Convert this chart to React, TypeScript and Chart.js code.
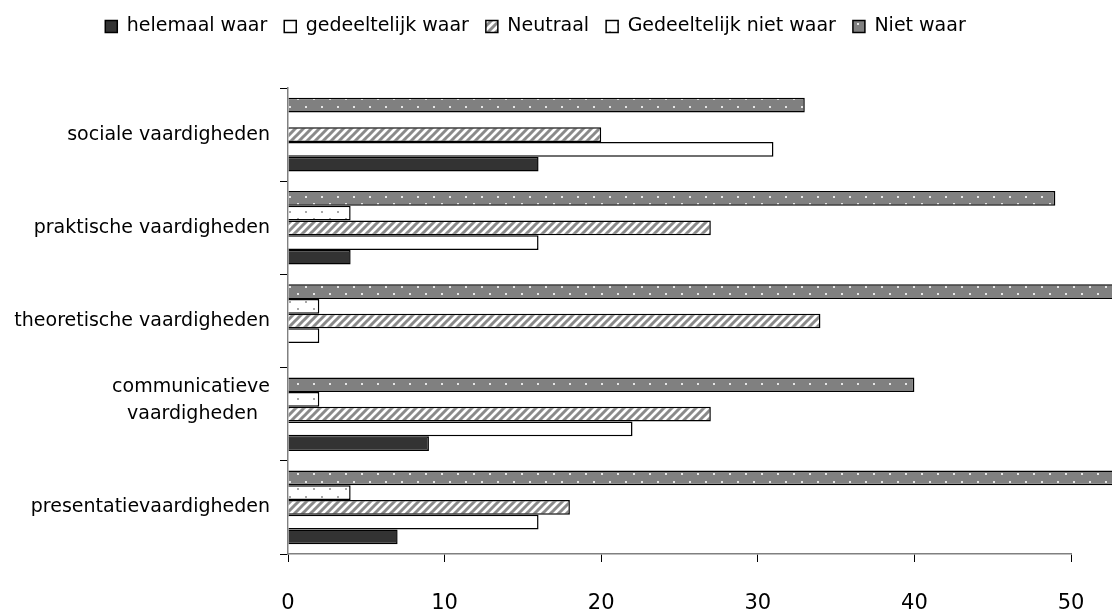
import React, { useEffect, useRef } from 'react';
import { Chart, registerables } from 'chart.js';

Chart.register(...registerables);

// Categories listed top to bottom as they appear in the chart
const categories: (string | string[])[] = [
  'sociale vaardigheden',
  'praktische vaardigheden',
  'theoretische vaardigheden',
  ['communicatieve', 'vaardigheden  ', ''],
  'presentatievaardigheden',
];

const helemaalWaar = [16, 4, 0, 9, 7];
const gedeeltelijkWaar = [31, 16, 2, 22, 16];
const neutraal = [20, 27, 34, 27, 18];
const gedeeltelijkNietWaar = [0, 4, 2, 2, 4];
const nietWaar = [33, 49, 56, 40, 56];

const xTicks = [0, 10, 20, 30, 40, 50];

const FONT = '"DejaVu Sans", sans-serif';

function makeHatch(): CanvasPattern | string {
  const c = document.createElement('canvas');
  c.width = 8;
  c.height = 8;
  const g = c.getContext('2d');
  if (!g) return '#aaa';
  g.fillStyle = '#ffffff';
  g.fillRect(0, 0, 8, 8);
  g.strokeStyle = '#8a8a8a';
  g.lineWidth = 3;
  g.beginPath();
  g.moveTo(-2, 10);
  g.lineTo(10, -2);
  g.moveTo(-2, 2);
  g.lineTo(2, -2);
  g.moveTo(6, 10);
  g.lineTo(10, 6);
  g.stroke();
  return g.createPattern(c, 'repeat') || '#aaa';
}

function makeDots(bg: string, dot: string): CanvasPattern | string {
  const c = document.createElement('canvas');
  c.width = 16;
  c.height = 15;
  const g = c.getContext('2d');
  if (!g) return bg;
  g.fillStyle = bg;
  g.fillRect(0, 0, 16, 15);
  g.fillStyle = dot;
  g.fillRect(1, 1, 2, 2);
  g.fillRect(9, 8, 2, 2);
  return g.createPattern(c, 'repeat') || bg;
}

export default function App() {
  const ref = useRef<HTMLCanvasElement | null>(null);

  useEffect(() => {
    document.body.style.margin = '0';
    if (!ref.current) return;
    const hatch = makeHatch();
    const grayDots = makeDots('#808080', '#e6e6e6');
    const whiteDots = makeDots('#ffffff', '#a8a8a8');

    const common = {
      borderColor: '#000000',
      borderWidth: 1.5,
      borderSkipped: 'start' as const,
      categoryPercentage: 0.79,
      barPercentage: 1.0,
    };

    const chart = new Chart(ref.current, {
      type: 'bar',
      data: {
        labels: categories,
        datasets: [
          { label: 'Niet waar', data: nietWaar, backgroundColor: grayDots as any, clip: false as any, ...common },
          { label: 'Gedeeltelijk niet waar', data: gedeeltelijkNietWaar, backgroundColor: whiteDots as any, ...common },
          { label: 'Neutraal', data: neutraal, backgroundColor: hatch as any, ...common },
          { label: 'gedeeltelijk waar', data: gedeeltelijkWaar, backgroundColor: '#ffffff', ...common },
          { label: 'helemaal waar', data: helemaalWaar, backgroundColor: '#333333', ...common },
        ],
      },
      options: {
        indexAxis: 'y',
        animation: false,
        responsive: true,
        maintainAspectRatio: false,
        layout: { padding: { left: 0, right: 41, top: 0, bottom: 0 } },
        plugins: {
          tooltip: { enabled: false },
          legend: {
            display: true,
            position: 'top',
            reverse: true,
            labels: {
              boxWidth: 12,
              boxHeight: 12,
              padding: 17,
              color: '#000',
              font: { family: FONT, size: 19 },
            },
          },
        },
        scales: {
          x: {
            type: 'linear',
            min: 0,
            max: 50,
            afterBuildTicks: (scale: any) => {
              scale.ticks = xTicks.map((v) => ({ value: v }));
            },
            afterFit: (scale: any) => {
              scale.height = 62;
              scale.paddingLeft = 0;
              scale.paddingRight = 0;
            },
            grid: {
              drawOnChartArea: false,
              drawTicks: true,
              tickLength: 8,
              color: '#000',
            },
            border: { display: true, color: '#808080', width: 1.5 },
            ticks: {
              color: '#000',
              padding: 29,
              font: { family: FONT, size: 21 },
            },
          },
          spacer: {
            type: 'linear',
            position: 'top',
            display: true,
            grid: { display: false },
            border: { display: false },
            ticks: { display: false },
            afterFit: (scale: any) => {
              scale.height = 42;
              scale.paddingLeft = 0;
              scale.paddingRight = 0;
            },
          },
          y: {
            type: 'category',
            afterFit: (scale: any) => {
              scale.width = 288;
            },
            grid: {
              offset: true,
              drawOnChartArea: false,
              drawTicks: true,
              tickLength: 8,
              color: '#000',
            },
            border: { display: true, color: '#808080', width: 1.5 },
            ticks: {
              color: '#000',
              padding: 10,
              font: { family: FONT, size: 19, lineHeight: 1.42 },
            },
          },
        },
      },
    });
    return () => chart.destroy();
  }, []);

  return (
    <div style={{ position: 'relative', width: 1112, height: 616 }}>
      <canvas ref={ref} />
    </div>
  );
}
